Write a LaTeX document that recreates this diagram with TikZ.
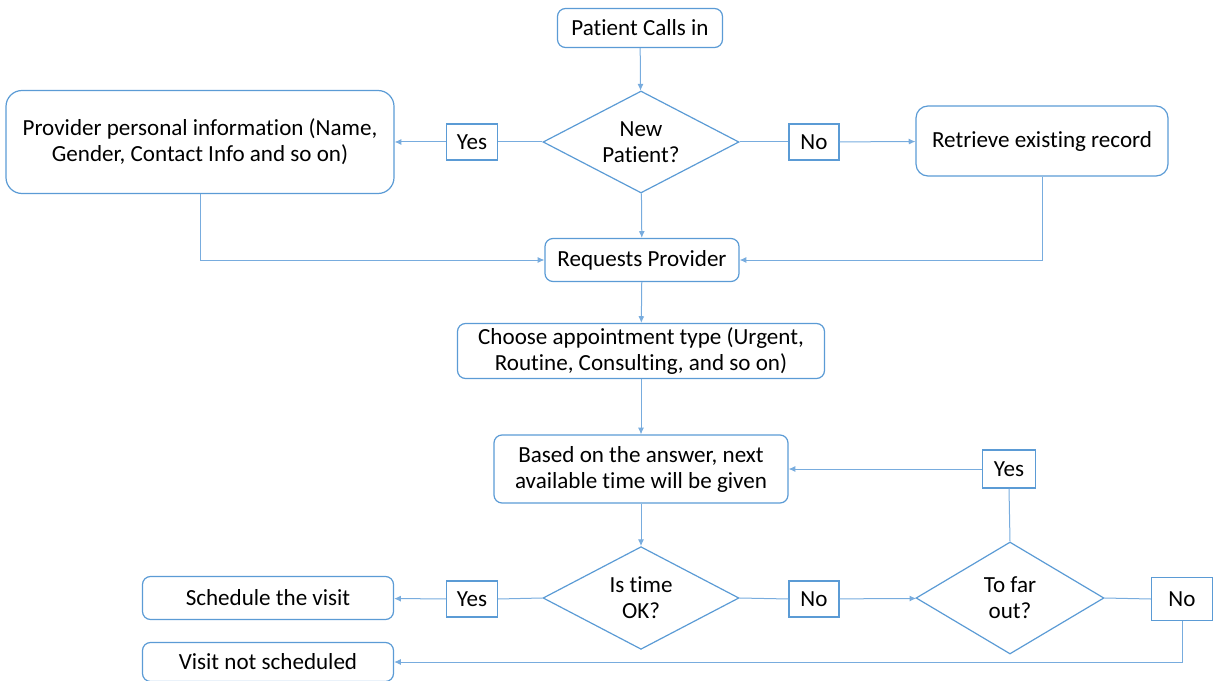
\documentclass[tikz,border=0pt]{standalone}
\usepackage{fontspec}
\setmainfont{Carlito}[Ligatures=NoCommon]
\usetikzlibrary{
  arrows.meta,
  positioning,
  shapes.geometric
}
\definecolor{edge}{RGB}{91,155,213}
\definecolor{wire}{RGB}{120,172,222}

\begin{document}
\begin{tikzpicture}[
  x=0.75pt, y=-0.75pt,
  proc/.style={draw=edge, line width=0.9pt, rounded corners=6pt, align=center,
               inner sep=0pt, font=\fontsize{17.3}{19.5}\selectfont},
  decide/.style={draw=edge, line width=0.9pt, diamond, shape aspect=1.9, align=center,
                 inner sep=0pt, font=\fontsize{17.3}{19.5}\selectfont},
  tag/.style={draw=edge, line width=0.9pt, minimum width=38pt, minimum height=27pt,
              inner sep=0pt, font=\fontsize{17.3}{19.5}\selectfont},
  conn/.style={draw=wire, line width=0.75pt},
  flow/.style={conn, -{Latex[length=5pt,width=4.5pt]}}
]
\useasboundingbox (0,0) rectangle (1214,681);

% top part
\node[proc, minimum width=123.75pt, minimum height=29.25pt] (call) at (640,28) {Patient Calls in};
\node[decide, minimum width=147pt, minimum height=76.5pt] (newpat) at (641,142) {New\\Patient?};
\node[tag] (yesnew) at (472,142) {Yes};
\node[tag, minimum width=37.5pt] (nonew) at (814,142) {No};
\node[proc, rounded corners=12pt, minimum width=291pt, minimum height=77.25pt] (info) at (200,142)
  {Provider personal information (Name,\\Gender, Contact Info and so on)};
\node[proc, rounded corners=9pt, minimum width=189pt, minimum height=52.5pt] (retr) at (1042,141) {Retrieve existing record};
\node[proc, minimum width=145.5pt, minimum height=32.25pt] (req) at (642,260) {Requests Provider};

% middle part
\node[proc, minimum width=275.25pt, minimum height=41.25pt] (choose) at (641,351)
  {Choose appointment type (Urgent,\\Routine, Consulting, and so on)};
\node[proc, minimum width=220.5pt, minimum height=51pt] (based) at (641,469)
  {Based on the answer, next\\available time will be given};
\node[tag, minimum width=39.75pt, minimum height=28.5pt] (yesfar) at (1009,469) {Yes};

% bottom part
\node[decide, minimum width=147pt, minimum height=77pt] (timeok) at (641,598) {Is time\\OK?};
\node[tag] (yestime) at (472,599) {Yes};
\node[tag, minimum width=37.5pt] (notime) at (814,599) {No};
\node[decide, shape aspect=1.68, minimum width=141pt, minimum height=84pt] (farout) at (1010,598) {To far\\out?};
\node[tag, minimum width=45.75pt, minimum height=32.25pt] (nofar) at (1182,599) {No};
\node[proc, minimum width=188.25pt, minimum height=32.25pt] (sched) at (268,598) {Schedule the visit};
\node[proc, minimum width=188.25pt, minimum height=29.25pt] (notsched) at (268,662) {Visit not scheduled};

% connectors
\draw[flow] (call) -- (newpat);
\draw[conn] (newpat.west) -- (yesnew.east);
\draw[flow] (yesnew) -- (info);
\draw[conn] (newpat.east) -- (nonew.west);
\draw[flow] (nonew) -- (retr);
\draw[flow] (newpat) -- (req);
\draw[flow] (info.south) |- (req.west);
\draw[flow] (retr.south) |- (req.east);
\draw[flow] (req) -- (choose);
\draw[flow] (choose) -- (based);
\draw[flow] (based) -- (timeok);
\draw[conn] (timeok.west) -- (yestime.east);
\draw[flow] (yestime) -- (sched);
\draw[conn] (timeok.east) -- (notime.west);
\draw[flow] (notime) -- (farout);
\draw[conn] (farout.north) -- (yesfar.south);
\draw[flow] (yesfar) -- (based);
\draw[conn] (farout.east) -- (nofar.west);
\draw[flow] (nofar.south) |- (notsched.east);

\end{tikzpicture}
\end{document}
